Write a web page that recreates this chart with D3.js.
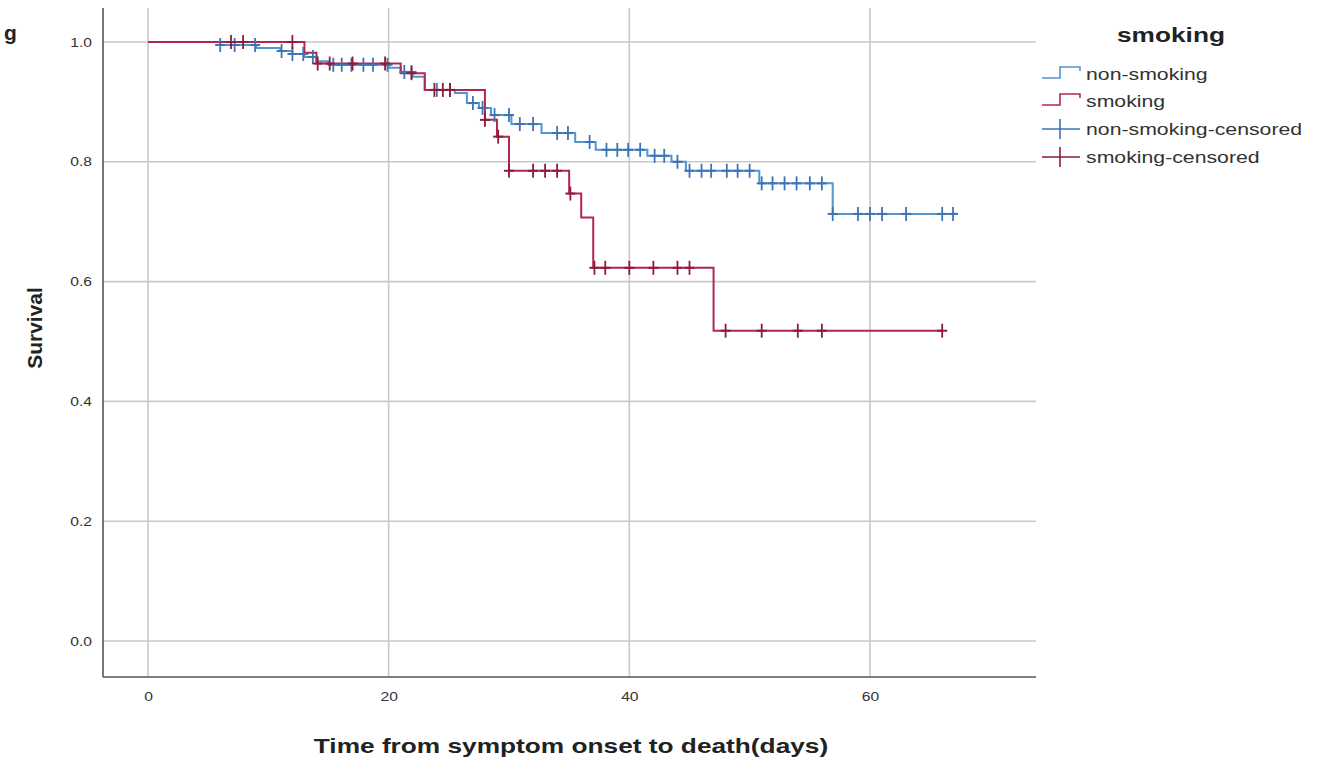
<!DOCTYPE html>
<html>
<head>
<meta charset="utf-8">
<script src="https://cdn.jsdelivr.net/npm/d3@7.9.0/dist/d3.min.js"></script>
<style>
  body { margin: 0; background: #fff; }
  svg { display: block; font-family: "Liberation Sans", Arial, sans-serif; }
  .tick text { fill: #333; font-size: 12.5px; }
</style>
</head>
<body>
<svg id="chart" width="1327" height="761"></svg>
<script>
// Kaplan-Meier steps: time of each drop and survival after it
const nonSmokingTimes = [0, 6, 9, 11, 12, 13, 14, 15, 20, 21, 22, 23, 25.5, 26.5, 27.5, 28.5, 30.2, 32.7, 35.5, 37.2, 41.5, 43.5, 44.7, 50.8, 56.9];
const nonSmokingSurv  = [1, 0.995, 0.99, 0.985, 0.98, 0.975, 0.968, 0.962, 0.957, 0.95, 0.942, 0.92, 0.915, 0.898, 0.89, 0.878, 0.863, 0.848, 0.833, 0.82, 0.81, 0.8, 0.785, 0.764, 0.713];
const nonSmokingEnd = 67.2;
const nonSmokingCensored = [6, 7.2, 8.9, 11.1, 12, 12.9, 13.7, 15.4, 16.1, 16.9, 17.9, 18.7, 19.9, 21.3, 21.9, 24, 25.1, 27, 27.8, 28.8, 30, 30.9, 32, 34, 34.9, 36.7, 38.1, 39, 39.9, 40.9, 42.1, 42.9, 44, 45, 46, 46.8, 48.1, 49, 50, 51, 51.9, 52.9, 53.9, 55, 56, 56.9, 59, 60, 61, 63, 66, 66.9];

const smokingTimes = [0, 13, 14, 21, 23, 28, 29, 30, 35, 36, 37, 47];
const smokingSurv  = [1, 0.982, 0.964, 0.948, 0.92, 0.87, 0.842, 0.785, 0.747, 0.707, 0.623, 0.518];
const smokingEnd = 66;
const smokingCensored = [6.9, 7.9, 12, 14.1, 15.1, 17, 19.7, 21.9, 23.8, 24.5, 25.1, 28, 29.1, 30, 32, 33, 34, 35.1, 37.1, 38, 40, 42, 44, 45, 48, 51, 54, 56, 66];

const xTicks = [0, 20, 40, 60];
const yTicks = [0, 0.2, 0.4, 0.6, 0.8, 1.0];
const legendLabels = ['non-smoking', 'smoking', 'non-smoking-censored', 'smoking-censored'];

const colors = {
  nonLine: '#5196cf', nonCens: '#3f73b3',
  smkLine: '#b3274c', smkCens: '#8f1b3b'
};

const svg = d3.select('#chart');
const frame = { left: 103, right: 1036, top: 8, bottom: 677 };
const stretch = 1.25; // text in the original is drawn wider than normal

const x = d3.scaleLinear().domain([0, 60]).range([148, 870]);
const y = d3.scaleLinear().domain([0, 1]).range([641, 42]);

// gridlines
svg.append('g')
  .selectAll('line')
  .data(yTicks)
  .join('line')
  .attr('x1', frame.left).attr('x2', frame.right)
  .attr('y1', d => y(d)).attr('y2', d => y(d))
  .attr('stroke', '#c9c9c9').attr('stroke-width', 1.6);
svg.append('g')
  .selectAll('line')
  .data(xTicks)
  .join('line')
  .attr('x1', d => x(d)).attr('x2', d => x(d))
  .attr('y1', frame.top).attr('y2', frame.bottom)
  .attr('stroke', '#c9c9c9').attr('stroke-width', 1.6);

// axes
const yAxis = svg.append('g')
  .attr('transform', `translate(${frame.left},0)`)
  .call(d3.axisLeft(y).tickValues(yTicks).tickFormat(d3.format('.1f')).tickSize(0).tickPadding(11));
yAxis.select('.domain').remove();
const xAxis = svg.append('g')
  .attr('transform', `translate(0,${frame.bottom})`)
  .call(d3.axisBottom(x).tickValues(xTicks).tickFormat(d3.format('d')).tickSize(0).tickPadding(15));
xAxis.select('.domain').remove();

svg.append('line')
  .attr('x1', frame.left).attr('x2', frame.left)
  .attr('y1', frame.top).attr('y2', frame.bottom)
  .attr('stroke', '#555').attr('stroke-width', 1.6);
svg.append('line')
  .attr('x1', frame.left).attr('x2', frame.right)
  .attr('y1', frame.bottom).attr('y2', frame.bottom)
  .attr('stroke', '#555').attr('stroke-width', 1.6);

// survival curves
function stepPoints(times, surv, end) {
  const pts = times.map((t, i) => [t, surv[i]]);
  pts.push([end, surv[surv.length - 1]]);
  return pts;
}
function survAt(times, surv, t) {
  let s = surv[0];
  times.forEach((tt, i) => { if (tt <= t) s = surv[i]; });
  return s;
}
const line = d3.line()
  .x(d => x(d[0])).y(d => y(d[1]))
  .curve(d3.curveStepAfter);

svg.append('path')
  .datum(stepPoints(nonSmokingTimes, nonSmokingSurv, nonSmokingEnd))
  .attr('d', line)
  .attr('fill', 'none').attr('stroke', colors.nonLine).attr('stroke-width', 2);
svg.append('path')
  .datum(stepPoints(smokingTimes, smokingSurv, smokingEnd))
  .attr('d', line)
  .attr('fill', 'none').attr('stroke', colors.smkLine).attr('stroke-width', 2);

function drawCensors(times, stepT, stepS, color) {
  const g = svg.append('g');
  g.selectAll('line.v')
    .data(times)
    .join('line')
    .attr('class', 'v')
    .attr('x1', d => x(d)).attr('x2', d => x(d))
    .attr('y1', d => y(survAt(stepT, stepS, d)) - 7)
    .attr('y2', d => y(survAt(stepT, stepS, d)) + 7)
    .attr('stroke', color).attr('stroke-width', 1.8);
  g.selectAll('line.h')
    .data(times)
    .join('line')
    .attr('class', 'h')
    .attr('x1', d => x(d) - 5).attr('x2', d => x(d) + 5)
    .attr('y1', d => y(survAt(stepT, stepS, d)))
    .attr('y2', d => y(survAt(stepT, stepS, d)))
    .attr('stroke', color).attr('stroke-width', 2);
}
drawCensors(nonSmokingCensored, nonSmokingTimes, nonSmokingSurv, colors.nonCens);
drawCensors(smokingCensored, smokingTimes, smokingSurv, colors.smkCens);

// titles
svg.append('text')
  .attr('class', 'wide')
  .attr('x', 571).attr('y', 753)
  .attr('text-anchor', 'middle')
  .style('font-size', '21px').style('font-weight', 'bold').style('fill', '#222')
  .text('Time from symptom onset to death(days)');
svg.append('text')
  .attr('transform', 'translate(42,328) rotate(-90)')
  .attr('text-anchor', 'middle')
  .style('font-size', '21px').style('font-weight', 'bold').style('fill', '#222')
  .text('Survival');
// tail of a title that is cut off by the left edge in the original
svg.append('text')
  .attr('x', 4).attr('y', 40)
  .style('font-size', '21px').style('font-weight', 'bold').style('fill', '#222')
  .text('g');

// legend
const legend = svg.append('g');
legend.append('text')
  .attr('class', 'wide')
  .attr('x', 1171).attr('y', 42)
  .attr('text-anchor', 'middle')
  .style('font-size', '21px').style('font-weight', 'bold').style('fill', '#222')
  .text('smoking');
const legendY = [74, 101, 129, 157];
const legendColors = [colors.nonLine, colors.smkLine, colors.nonCens, colors.smkCens];
legendLabels.forEach((label, i) => {
  const ly = legendY[i];
  if (i < 2) {
    legend.append('path')
      .attr('d', `M1042,${ly + 4}H1060V${ly - 7}H1080V${ly - 3}`)
      .attr('fill', 'none').attr('stroke', legendColors[i]).attr('stroke-width', 1.6);
  } else {
    legend.append('path')
      .attr('d', `M1042,${ly}H1080M1060,${ly - 10}V${ly + 10}`)
      .attr('fill', 'none').attr('stroke', legendColors[i]).attr('stroke-width', 1.6);
  }
  legend.append('text')
    .attr('class', 'wide')
    .attr('x', 1086).attr('y', ly + 6)
    .style('font-size', '17px').style('fill', '#333')
    .text(label);
});

// widen texts to match the original's proportions
svg.selectAll('.tick text').classed('wide', true);
svg.selectAll('text.wide').each(function() {
  const w = this.getComputedTextLength();
  d3.select(this)
    .attr('textLength', w * stretch)
    .attr('lengthAdjust', 'spacingAndGlyphs');
});
</script>
</body>
</html>
